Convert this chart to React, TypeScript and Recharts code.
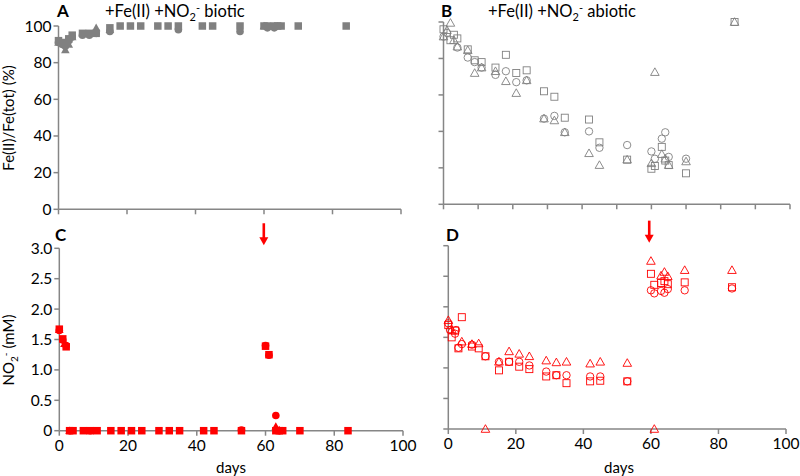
import { ReferenceDot, Scatter, ScatterChart, XAxis, YAxis } from 'recharts';

type Pt = [number, number];

// panel A: Fe(II)/Fe(tot) %, biotic (filled gray)
const aSquares: Pt[] = [
  [0, 92], [1, 91], [3, 93], [4, 95], [7, 96], [9, 96], [11, 96], [15, 99],
  [18, 100], [21, 100], [24, 100], [29, 100], [32, 100], [35, 100], [42, 100],
  [45, 100], [53, 100], [60, 100], [61, 100], [63, 100], [64, 100], [65, 100],
  [70, 100], [84, 100],
];
const aCircles: Pt[] = [
  [0, 91], [1, 90], [2, 89], [3, 92], [4, 94], [7, 95], [9, 95], [11, 96],
  [15, 97], [35, 98], [53, 97], [61, 99], [63, 99],
];
const aTriangles: Pt[] = [
  [0, 91], [2, 87], [3, 90], [4, 94], [11, 99], [15, 98], [60, 100],
];

// panel B: Fe(II)/Fe(tot) %, abiotic (open gray)
const bSquares: Pt[] = [
  [0, 96], [2, 90], [3, 93], [4, 91], [7, 85], [9, 79], [11, 78], [15, 75],
  [18, 82], [21, 72], [24, 73.5], [29, 62], [32, 59], [35, 47.5], [42, 46.5],
  [45, 34], [53, 24.5], [60, 19.5], [61, 21], [63, 31.5], [64, 24], [65, 21.5],
  [70, 17], [84, 100],
];
const bCircles: Pt[] = [
  [0, 92], [1, 94], [4, 86], [7, 80.5], [9, 78], [11, 75], [15, 71], [18, 73],
  [21, 67], [24, 68], [29, 47], [32, 48.5], [35, 39.5], [42, 40], [45, 31],
  [53, 32.5], [60, 29], [61, 25], [63, 36], [64, 39.5], [65, 26], [70, 25],
];
const bTriangles: Pt[] = [
  [0, 92], [1, 95.5], [2, 99.5], [3, 90], [4, 86.5], [7, 84.5], [9, 72],
  [11, 75], [15, 73], [18, 67.5], [21, 61], [24, 68], [29, 47], [32, 46],
  [35, 39.5], [42, 28], [45, 21.5], [53, 24.5], [60, 22.5], [61, 72.5],
  [63, 27.5], [64, 25], [65, 21.5], [70, 23.5], [84, 100],
];

// panel C: NO2- mM, biotic (filled red)
const cSquares: Pt[] = [
  [0, 1.67], [1, 1.51], [2, 1.38], [3, 0], [4, 0], [7, 0], [9, 0], [11, 0],
  [15, 0], [18, 0], [21, 0], [24, 0], [29, 0], [32, 0], [35, 0], [42, 0],
  [45, 0], [53, 0], [60, 1.39], [61, 1.25], [63, 0], [64, 0], [65, 0], [70, 0],
  [84, 0],
];
const cCircles: Pt[] = [
  [0, 1.65], [1, 1.49], [2, 1.4], [3, 0], [9, 0], [53, 0.01], [60, 1.4],
  [61, 1.24], [63, 0.25], [64, 0],
];
const cTriangles: Pt[] = [
  [0, 1.66], [1.5, 1.43], [3, 0], [63, 0.07], [64, 0.01],
];

// panel D: NO2- mM, abiotic (open red)
const dSquares: Pt[] = [
  [0, 1.7], [1, 1.5], [2, 1.61], [4, 1.83], [3, 1.32], [7, 1.35], [9, 1.32],
  [11, 1.19], [15, 0.96], [18, 1.1], [21, 1.02], [24, 0.98], [29, 0.86],
  [32, 0.88], [35, 0.75], [42, 0.78], [45, 0.79], [53, 0.78], [60, 2.54],
  [61, 2.36], [63, 2.39], [64, 2.42], [65, 2.37], [70, 2.4], [84, 2.32],
];
const dCircles: Pt[] = [
  [0, 1.73], [0.5, 1.62], [2, 1.56], [2.3, 1.62], [3, 1.33], [4, 1.39],
  [7, 1.38], [11, 1.19], [15, 1.1], [18, 1.1], [21, 1.1], [24, 1.04],
  [29, 0.94], [32, 0.88], [35, 0.88], [42, 0.86], [45, 0.86], [53, 0.78],
  [60, 2.27], [61, 2.22], [63, 2.26], [64, 2.23], [65, 2.29], [70, 2.27],
  [84, 2.3],
];
const dTriangles: Pt[] = [
  [0, 1.78], [1, 1.63], [4, 1.43], [7, 1.39], [9, 1.4], [11, 0], [15, 1.1],
  [18, 1.27], [21, 1.23], [24, 1.19], [29, 1.12], [32, 1.09], [35, 1.1],
  [42, 1.07], [45, 1.1], [53, 1.08], [60, 2.75], [61, 0], [63, 2.51],
  [64, 2.57], [65, 2.5], [70, 2.6], [84, 2.6],
];

const ARROW_DAY = 59.5;
const pctTicks = [0, 20, 40, 60, 80, 100];
const mmTicks = [0, 0.5, 1, 1.5, 2, 2.5, 3];
const mmLabels = ['0', '0.5', '1.0', '1.5', '2.0', '2.5', '3.0'];
const dayTicks = [0, 20, 40, 60, 80, 100];
const dayTicks10 = [0, 10, 20, 30, 40, 50, 60, 70, 80, 90, 100];

const GRAY = '#808080';
const RED = '#ff0000';
const AXIS = '#868686';
const FONT = 'Lato, "Open Sans", sans-serif';

const toXY = (pts: Pt[]) => pts.map(([x, y]) => ({ x, y }));

function Mark({ cx, cy, kind, color, open }: any) {
  if (cx == null || cy == null) return null;
  const fill = open ? 'none' : color;
  const sw = open ? 0.9 : 0;
  if (kind === 'square') {
    const s = open ? 7 : 7.5;
    return <rect x={cx - s / 2} y={cy - s / 2} width={s} height={s} fill={fill} stroke={color} strokeWidth={sw} />;
  }
  if (kind === 'circle') {
    return <circle cx={cx} cy={cy} r={open ? 3.7 : 3.8} fill={fill} stroke={color} strokeWidth={sw} />;
  }
  const h = 4.3;
  return (
    <polygon
      points={`${cx},${cy - h} ${cx - 4.3},${cy + 3.3} ${cx + 4.3},${cy + 3.3}`}
      fill={fill}
      stroke={color}
      strokeWidth={sw}
    />
  );
}

function Arrow({ cx, cy }: any) {
  if (cx == null || cy == null) return null;
  return (
    <g>
      <rect x={cx - 1.3} y={cy - 22} width={2.6} height={15} fill={RED} />
      <polygon points={`${cx - 4.5},${cy - 8} ${cx + 4.5},${cy - 8} ${cx},${cy}`} fill={RED} />
    </g>
  );
}

interface PanelProps {
  left: number;
  top: number;
  width: number;
  height: number;
  plot: { l: number; t: number; r: number; b: number };
  squares: Pt[];
  circles: Pt[];
  triangles: Pt[];
  color: string;
  open: boolean;
  pct: boolean;
  yLabels: boolean;
  xLabels: boolean;
  xTicks: number[];
  arrow?: boolean;
}

function Panel(p: PanelProps) {
  const { l, t, r, b } = p.plot;
  const xAxisH = p.height - b;
  const series: [string, Pt[]][] = [
    ['square', p.squares],
    ['circle', p.circles],
    ['triangle', p.triangles],
  ];
  const tickStyle = { fill: '#000', fontSize: 15.5, fontFamily: FONT };
  return (
    <div style={{ position: 'absolute', left: p.left, top: p.top }}>
      <ScatterChart
        width={p.width}
        height={p.height}
        margin={{ top: t, right: p.width - r, left: 0, bottom: 0 }}
        style={{ overflow: 'visible' }}
      >
        <XAxis
          type="number"
          dataKey="x"
          domain={[0, 100]}
          ticks={p.xTicks}
          height={xAxisH}
          stroke={AXIS}
          strokeWidth={1.5}
          tickSize={5}
          tickMargin={4}
          tick={tickStyle}
          interval={0}
          tickFormatter={p.xLabels ? (v: number) => String(v) : () => ''}
        />
        <YAxis
          type="number"
          dataKey="y"
          domain={p.pct ? [0, 100] : [0, 3]}
          ticks={p.pct ? pctTicks : mmTicks}
          width={l}
          stroke={AXIS}
          strokeWidth={1.5}
          tickSize={5}
          tickMargin={2}
          tick={tickStyle}
          interval={0}
          tickFormatter={
            p.yLabels
              ? (v: number) => (p.pct ? String(v) : mmLabels[mmTicks.indexOf(v)] ?? String(v))
              : () => ''
          }
        />
        {series.map(([kind, pts]) => (
          <Scatter
            key={kind}
            data={toXY(pts)}
            isAnimationActive={false}
            shape={(sp: any) => <Mark {...sp} kind={kind} color={p.color} open={p.open} />}
          />
        ))}
        {p.arrow && (
          <ReferenceDot
            x={ARROW_DAY}
            y={3.05}
            ifOverflow="visible"
            shape={(sp: any) => <Arrow {...sp} />}
          />
        )}
      </ScatterChart>
    </div>
  );
}

export default function App() {
  const labelStyle = { fontFamily: FONT, fontSize: 15, fill: '#000' };
  const titleStyle = { ...labelStyle, fontSize: 16.5 };
  const letterStyle = { ...labelStyle, fontSize: 17, fontWeight: 700 };
  return (
    <div style={{ position: 'absolute', left: 0, top: 0, width: 800, height: 476, background: '#fff', overflow: 'hidden' }}>
      <Panel
        left={0} top={0} width={420} height={230}
        plot={{ l: 58.5, t: 26, r: 401, b: 209.3 }}
        squares={aSquares} circles={aCircles} triangles={aTriangles}
        color={GRAY} open={false} pct yLabels xLabels={false} xTicks={dayTicks}
      />
      <Panel
        left={400} top={0} width={400} height={230}
        plot={{ l: 43.5, t: 22, r: 390, b: 204.3 }}
        squares={bSquares} circles={bCircles} triangles={bTriangles}
        color={GRAY} open pct yLabels={false} xLabels={false} xTicks={dayTicks10}
      />
      <Panel
        left={0} top={220} width={420} height={236}
        plot={{ l: 59.3, t: 28.3, r: 403, b: 210.7 }}
        squares={cSquares} circles={cCircles} triangles={cTriangles}
        color={RED} open={false} pct={false} yLabels xLabels xTicks={dayTicks} arrow
      />
      <Panel
        left={400} top={220} width={400} height={236}
        plot={{ l: 48.3, t: 25.7, r: 386, b: 209 }}
        squares={dSquares} circles={dCircles} triangles={dTriangles}
        color={RED} open pct={false} yLabels={false} xLabels xTicks={dayTicks} arrow
      />
      <svg width={800} height={476} style={{ position: 'absolute', left: 0, top: 0, pointerEvents: 'none' }}>
        <text x={57} y={17} style={letterStyle}>A</text>
        <text x={105} y={17} style={titleStyle}>
          +Fe(II) +NO<tspan dy={4} fontSize={11}>2</tspan>
          <tspan dy={-9} fontSize={11}>-</tspan>
          <tspan dy={5}> biotic</tspan>
        </text>
        <text x={441} y={17} style={letterStyle}>B</text>
        <text x={488} y={17} style={titleStyle}>
          +Fe(II) +NO<tspan dy={4} fontSize={11}>2</tspan>
          <tspan dy={-9} fontSize={11}>-</tspan>
          <tspan dy={5}> abiotic</tspan>
        </text>
        <text x={55} y={241} style={letterStyle}>C</text>
        <text x={446} y={241} style={letterStyle}>D</text>
        <text transform="translate(14,118) rotate(-90)" textAnchor="middle" style={labelStyle}>
          Fe(II)/Fe(tot) (%)
        </text>
        <text transform="translate(14,350) rotate(-90)" textAnchor="middle" style={labelStyle}>
          NO<tspan dy={4} fontSize={10}>2</tspan>
          <tspan dy={-9} fontSize={10}>-</tspan>
          <tspan dy={5}> (mM)</tspan>
        </text>
        <text x={231} y={473} textAnchor="middle" style={labelStyle}>days</text>
        <text x={619} y={473} textAnchor="middle" style={labelStyle}>days</text>
      </svg>
    </div>
  );
}
